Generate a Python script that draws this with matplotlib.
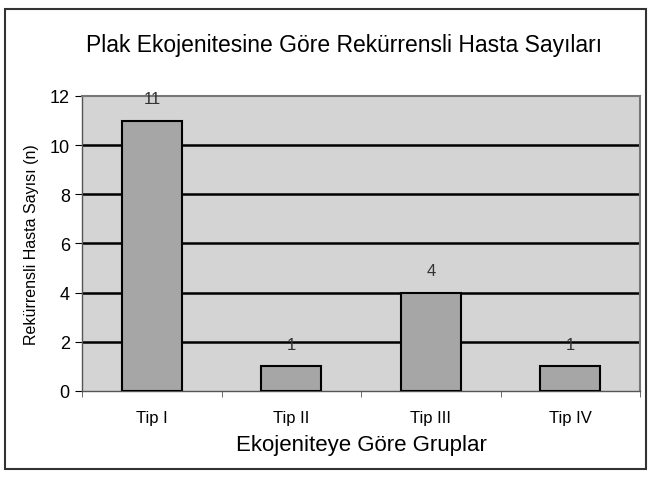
import matplotlib.pyplot as plt
from matplotlib.patches import Rectangle
import numpy as np

plt.rcParams['font.family'] = ['Liberation Sans', 'DejaVu Sans']

# data
groups = ["Tip I", "Tip II", "Tip III", "Tip IV"]
counts = [11, 1, 4, 1]
yticks = [0, 2, 4, 6, 8, 10, 12]

x = np.arange(len(groups))

fig = plt.figure(figsize=(6.53, 4.85), dpi=100)
ax = fig.add_axes([0.126, 0.192, 0.854, 0.608])

ax.set_facecolor("#d4d4d4")
for yv in yticks[1:-1]:
    ax.axhline(yv, color="black", linewidth=1.8, zorder=1)

ax.bar(x, counts, width=0.43, color="#a6a6a6", edgecolor="black", linewidth=1.5, zorder=3)

for xi, c in zip(x, counts):
    ax.text(xi, c + 0.9, str(c), ha="center", va="center", fontsize=12, color="#333333")

ax.set_xlim(-0.5, len(groups) - 0.5)
ax.set_ylim(0, 12)
ax.set_yticks(yticks)
ax.set_xticks(x)
ax.set_xticklabels(groups, fontsize=12)
ax.set_xticks(np.arange(len(groups) + 1) - 0.5, minor=True)
ax.tick_params(axis="x", which="major", length=0, pad=14)
ax.tick_params(axis="x", which="minor", length=4, color="#555555")
ax.tick_params(axis="y", length=5, labelsize=13, pad=4)

for side in ["top", "right"]:
    ax.spines[side].set_color("#777777")
    ax.spines[side].set_linewidth(1.5)
for side in ["left", "bottom"]:
    ax.spines[side].set_color("#555555")
    ax.spines[side].set_linewidth(1)

ax.set_ylabel("Rekürrensli Hasta Sayısı (n)", fontsize=11.5, labelpad=8)
ax.set_xlabel("Ekojeniteye Göre Gruplar", fontsize=16, labelpad=6)

fig.text(0.527, 0.907, "Plak Ekojenitesine Göre Rekürrensli Hasta Sayıları",
         ha="center", va="center", fontsize=16.5)

# outer frame
fig.patches.append(Rectangle((0.008, 0.03), 0.982, 0.95, transform=fig.transFigure,
                             fill=False, edgecolor="#333333", linewidth=1.5))

plt.savefig("out.png", dpi=100)
plt.close()
